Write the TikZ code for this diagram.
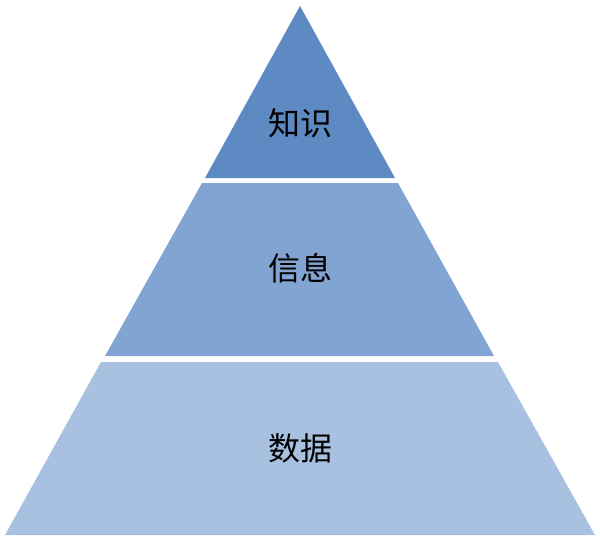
\documentclass[tikz,border=0pt]{standalone}
\usepackage{fontspec}
\newfontfamily\cjk{Noto Sans CJK SC}
\definecolor{ctop}{HTML}{5E8AC3}
\definecolor{cmid}{HTML}{82A4D2}
\definecolor{cbot}{HTML}{A9C1E1}
\tikzset{lab/.style={font=\cjk\fontsize{32}{36}\selectfont,text=black}}
\begin{document}
\begin{tikzpicture}[x=1pt,y=-1pt]
\useasboundingbox (0,0) rectangle (600,541);
\fill[ctop] (300,6) -- (395,178) -- (205,178) -- cycle;
\fill[cmid] (202,183) -- (398,183) -- (494,356) -- (105,356) -- cycle;
\fill[cbot] (101,362) -- (498,362) -- (595,535) -- (5,535) -- cycle;
\node[lab] (k) at (300,123) {知识};
\node[lab] (x) at (300,268) {信息};
\node[lab] (s) at (300,448) {数据};
\end{tikzpicture}
\end{document}
